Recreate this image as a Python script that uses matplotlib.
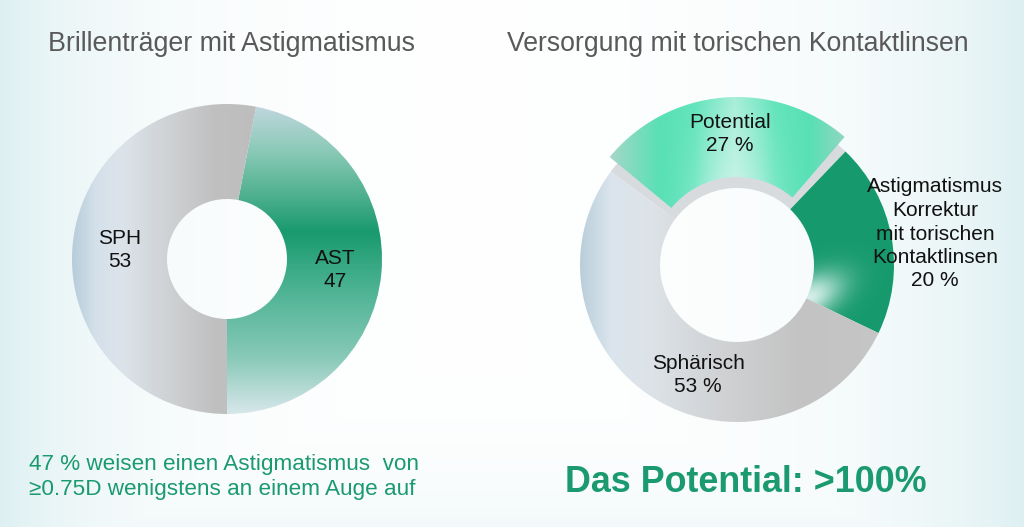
import numpy as np
import matplotlib.pyplot as plt
from matplotlib.patches import Wedge
from matplotlib.colors import to_rgb

plt.rcParams['font.family'] = ['Liberation Sans', 'DejaVu Sans']

# data
left_title = 'Brillenträger mit Astigmatismus'
left_labels = ['AST', 'SPH']
left_values = [47, 53]

right_title = 'Versorgung mit torischen Kontaktlinsen'
right_labels = ['Potential', 'Astigmatismus\nKorrektur\nmit torischen\nKontaktlinsen', 'Sphärisch']
right_values = [27, 20, 53]

note_text = '47 % weisen einen Astigmatismus  von\n≥0.75D wenigstens an einem Auge auf'
big_text = 'Das Potential: >100%'

W, H = 1024, 527
GREEN = '#1a9a6e'

# pixel grid in image coordinates (y down)
xx, yy = np.meshgrid(np.arange(W) + 0.5, np.arange(H) + 0.5)


def ramp(t, stops):
    # piecewise linear colour ramp, stops = [(pos, colour), ...]
    pos = np.array([s[0] for s in stops], dtype=float)
    cols = np.array([to_rgb(s[1]) for s in stops])
    out = np.zeros(t.shape + (3,))
    for c in range(3):
        out[..., c] = np.interp(t, pos, cols[:, c])
    return out


def blend(a, b, w):
    w = np.clip(w, 0, 1)[..., None]
    return a * (1 - w) + np.array(to_rgb(b)) * w


def fill(ax, patch, rgb):
    im = ax.imshow(rgb, extent=(0, W, 0, H), origin='upper', interpolation='bilinear', zorder=patch.get_zorder())
    im.set_clip_path(patch)


fig = plt.figure(figsize=(10.24, 5.27), dpi=100)
ax = fig.add_axes([0, 0, 1, 1])

# background: white with a light cyan tint at the sides
bg = np.ones((H, W, 3))
tint = np.maximum(np.exp(-xx / 120.0), np.exp(-(W - xx) / 140.0)) * 0.95
tint = np.maximum(tint, np.exp(-(H - yy) / 60.0) * 0.35)
bg = blend(bg, '#dceff1', tint)
ax.imshow(bg, extent=(0, W, 0, H), origin='upper', zorder=0)

# ---- left donut
lw, _ = ax.pie(left_values, radius=155, center=(227, H - 259), startangle=-90,
               counterclock=True, wedgeprops=dict(width=95, linewidth=0))
for w in lw:
    w.set_facecolor('none')
    w.set_zorder(2)

ast_rgb = ramp(yy, [(104, '#c2d7e1'), (150, '#8ccab7'), (195, '#4fb08f'), (232, '#199a6e'),
                    (290, '#4db393'), (357, '#88c9b7'), (414, '#d8e7eb')])
sph_rgb = ramp(xx, [(72, '#b6ccd9'), (95, '#d3e0ea'), (120, '#dce4eb'), (165, '#d0d3d6'),
                    (215, '#c0c0c0'), (260, '#bdbdbd')])
fill(ax, lw[0], ast_rgb)
fill(ax, lw[1], sph_rgb)

# ---- right donut
rw, _ = ax.pie(right_values, radius=157, center=(737, H - 265), startangle=143.5,
               counterclock=False, wedgeprops=dict(width=80, linewidth=0))
for w in rw:
    w.set_zorder(2)

# slot left behind by the pulled-out segment
rw[0].set_facecolor('#d7dbde')

astk_rgb = np.ones((H, W, 3)) * np.array(to_rgb('#169a6d'))
# soft highlight along the lower edge, near the hole
u = (xx - 808) * np.cos(np.radians(28)) - (yy - 298) * np.sin(np.radians(28))
v = (xx - 808) * np.sin(np.radians(28)) + (yy - 298) * np.cos(np.radians(28))
glow = np.exp(-((np.clip(u, 0, None) / 38.0) ** 2 + (np.clip(u, None, 0) / 10.0) ** 2 + (v / 20.0) ** 2))
astk_rgb = blend(astk_rgb, '#d3eee8', glow)
rw[1].set_facecolor('none')
fill(ax, rw[1], astk_rgb)

sphr_rgb = ramp(xx, [(580, '#b9ceda'), (612, '#dbe5ed'), (650, '#dde3e8'), (720, '#d0d2d4'),
                     (800, '#c3c3c3'), (890, '#c6c6c6')])
rw[2].set_facecolor('none')
fill(ax, rw[2], sphr_rgb)

# pulled-out segment
p = rw[0]
pop = Wedge((p.center[0], p.center[1] + 3), 165, p.theta1 + 3, p.theta2 - 3, width=80,
            facecolor='none', linewidth=0, zorder=3)
ax.add_patch(pop)
pot_rgb = ramp(xx, [(608, '#a9d6c9'), (635, '#7edcbd'), (660, '#58e0b4'), (695, '#62e4bb'),
                    (735, '#a8eed9'), (775, '#62e4bb'), (810, '#58e0b4'), (835, '#80d9bd'),
                    (855, '#a4d6c8')])
pot_rgb = blend(pot_rgb, '#d8f6ed', np.exp(-((xx - 735) / 38.0) ** 2) * np.clip((yy - 95) / 110.0, 0, 1) * 0.75)
fill(ax, pop, pot_rgb)

# ---- labels
lab = dict(ha='center', va='center', fontsize=15, color='#111111', linespacing=1.3, zorder=5)
ax.text(335, H - 270, f'{left_labels[0]}\n{left_values[0]}', **lab)
ax.text(120, H - 250, f'{left_labels[1]}\n{left_values[1]}', **lab)
ax.text(730, H - 134, f'{right_labels[0]}\n{right_values[0]} %', **lab)
ax.text(935, H - 234, f'{right_labels[1]}\n{right_values[1]} %', **lab)
ax.text(698, H - 375, f'{right_labels[2]}\n{right_values[2]} %', **lab)

# titles and notes
ax.text(232, H - 44, left_title, ha='center', va='center', fontsize=19.3, color='#595959')
ax.text(738, H - 44, right_title, ha='center', va='center', fontsize=19.2, color='#595959')
ax.text(29, H - 477, note_text, ha='left', va='center', fontsize=16.2, color=GREEN, linespacing=1.3)
ax.text(746, H - 483, big_text, ha='center', va='center', fontsize=25.8, fontweight='bold', color=GREEN)

ax.set_xlim(0, W)
ax.set_ylim(0, H)
ax.set_aspect('auto')
ax.axis('off')

fig.savefig('out.png', dpi=100)
